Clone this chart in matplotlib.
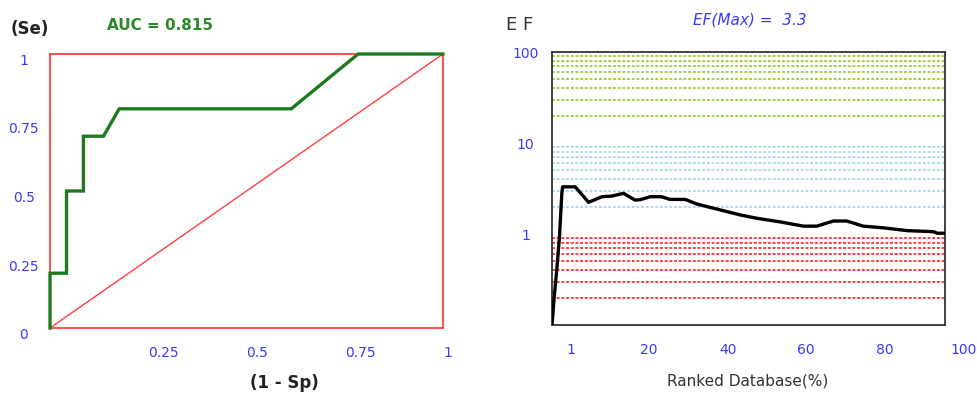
import matplotlib
matplotlib.use("Agg")
import matplotlib.pyplot as plt
import numpy as np

# ---- data ----
roc_fpr = [0, 0, 0.042, 0.042, 0.085, 0.085, 0.136, 0.176, 0.614, 0.784, 1.0]
roc_tpr = [0, 0.2, 0.2, 0.5, 0.5, 0.7, 0.7, 0.8, 0.8, 1.0, 1.0]
roc_xticks = [0.25, 0.5, 0.75, 1.0]
roc_xticklabels = ["0.25", "0.5", "0.75", "1"]
roc_yticks = [0, 0.25, 0.5, 0.75, 1.0]
roc_yticklabels = ["0", "0.25", "0.5", "0.75", "1"]
auc_text = "AUC = 0.815"

ef_x = [-4.7, -4.2, -3.5, -2.8, -2.2, -2.0, 1.2, 4.6, 8.0, 10.5, 13.5, 16.4, 17.7,
        20.3, 23.2, 25.3, 29.2, 32.1, 38.1, 43.2, 47.4, 53.3, 59.3, 62.7, 66.9,
        70.3, 74.5, 79.6, 85.6, 92.4, 93.3, 95.0]
ef_y = [0.1, 0.19, 0.40, 0.93, 2.8, 3.3, 3.3, 2.23, 2.57, 2.61, 2.80, 2.36, 2.38,
        2.57, 2.57, 2.40, 2.40, 2.14, 1.84, 1.62, 1.49, 1.36, 1.22, 1.22, 1.39,
        1.39, 1.22, 1.17, 1.09, 1.06, 1.02, 1.02]
ef_xticks = [0, 20, 40, 60, 80]
ef_xticklabels = ["1", "20", "40", "60", "80"]
ef_extra_xtick = 100
ef_yticks = [1, 10, 100]
ef_yticklabels = ["1", "10", "100"]
grid_red = [0.2, 0.3, 0.4, 0.5, 0.6, 0.7, 0.8, 0.9]
grid_blue = [2, 3, 4, 5, 6, 7, 8, 9]
grid_green = [20, 30, 40, 50, 60, 70, 80, 90]
ef_max_text = "EF(Max) =  3.3"

tick_blue = "#3a3af5"

fig = plt.figure(figsize=(9.77, 3.95), dpi=100)

# ---- ROC panel ----
ax1 = fig.add_axes([0.0512, 0.1696, 0.4022, 0.6937])
ax1.set_xlim(0, 1)
ax1.set_ylim(0, 1)
for s in ax1.spines.values():
    s.set_color("#ff3030")
    s.set_linewidth(1.2)
ax1.plot([0, 1], [0, 1], color="#ff4040", lw=1.0)
ax1.plot(roc_fpr, roc_tpr, color="#1f7a1f", lw=2.4, clip_on=False, zorder=5,
         solid_joinstyle="miter")
ax1.set_xticks(roc_xticks)
ax1.set_xticklabels(roc_xticklabels)
ax1.set_yticks(roc_yticks)
ax1.set_yticklabels(roc_yticklabels)
ax1.tick_params(axis="both", length=0, labelsize=10, labelcolor=tick_blue)
ax1.tick_params(axis="x", pad=13)
ax1.tick_params(axis="y", pad=19)
for lab in ax1.get_xticklabels():
    lab.set_ha("left")
for lab in ax1.get_yticklabels():
    lab.set_ha("center")
    lab.set_va("top")
fig.text(30 / 977, 1 - 29 / 395, "(Se)", fontsize=12, fontweight="bold",
         ha="center", va="center", color="#222222")
fig.text(160 / 977, 1 - 25 / 395, auc_text, fontsize=11, fontweight="bold",
         ha="center", va="center", color="#2a8a2a")
fig.text(284 / 977, 1 - 383 / 395, "(1 - Sp)", fontsize=12, fontweight="bold",
         ha="center", va="center", color="#222222")

# ---- EF panel ----
ax2 = fig.add_axes([0.565, 0.1772, 0.4022, 0.6911])
ax2.set_yscale("log")
ax2.set_xlim(-4.7, 95.3)
ax2.set_ylim(0.1, 100)
for s in ax2.spines.values():
    s.set_color("#333333")
    s.set_linewidth(1.3)
dash = (0, (1.6, 1.0))
for v in grid_red:
    ax2.axhline(v, color="#ff3030", lw=1.3, ls=dash, zorder=1)
for v in grid_blue:
    ax2.axhline(v, color="#a8d8e8", lw=1.3, ls=dash, zorder=1)
for v in grid_green:
    ax2.axhline(v, color="#9acd32", lw=1.3, ls=dash, zorder=1)
ax2.plot(ef_x, ef_y, color="black", lw=2.4, zorder=5)
ax2.set_xticks(ef_xticks)
ax2.set_xticklabels(ef_xticklabels)
ax2.set_yticks(ef_yticks)
ax2.set_yticklabels(ef_yticklabels)
ax2.yaxis.set_minor_locator(matplotlib.ticker.NullLocator())
ax2.tick_params(axis="both", which="both", length=0, labelsize=10, labelcolor=tick_blue)
ax2.tick_params(axis="x", pad=13)
ax2.tick_params(axis="y", pad=19)
for lab in ax2.get_yticklabels():
    lab.set_ha("center")
ax2.text(ef_extra_xtick, -13 * 1.389 / (0.6911 * 395), "100",
         transform=ax2.get_xaxis_transform(),
         fontsize=10, color=tick_blue, ha="center", va="top", clip_on=False)
fig.text(520 / 977, 1 - 25 / 395, "E F", fontsize=13, ha="center", va="center",
         color="#333333")
fig.text(750 / 977, 1 - 20 / 395, ef_max_text, fontsize=11, style="italic",
         ha="center", va="center", color="#3a3af5")
fig.text(748 / 977, 1 - 381 / 395, "Ranked Database(%)", fontsize=11,
         ha="center", va="center", color="#333333")

fig.savefig("out.png", dpi=100)
